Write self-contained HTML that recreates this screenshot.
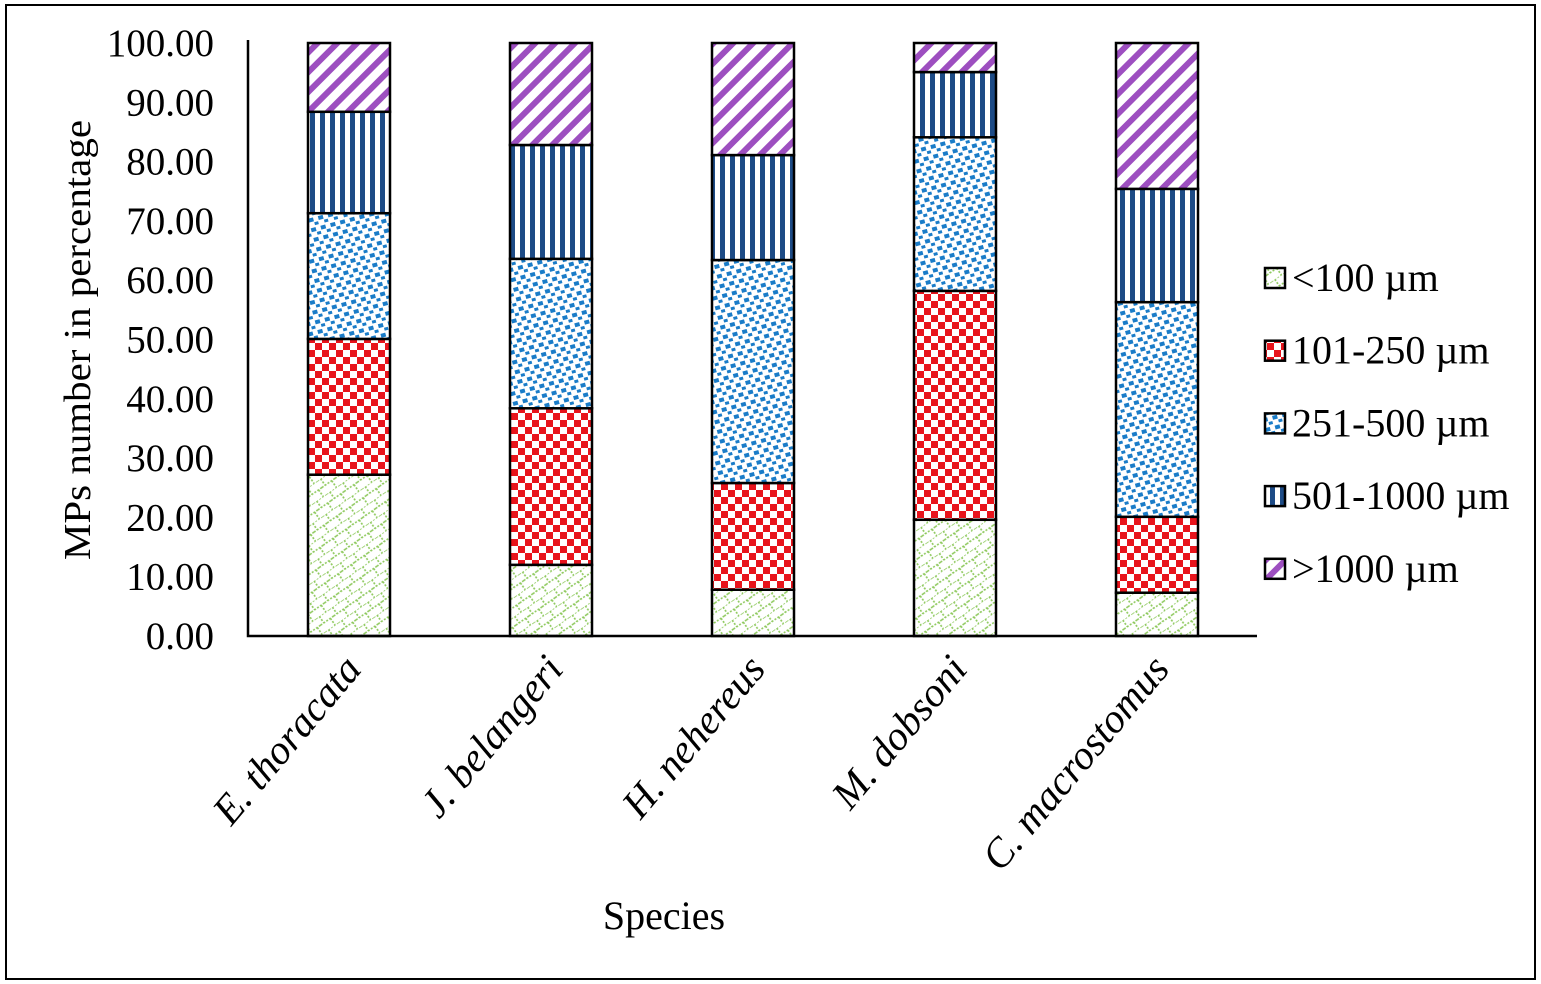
<!DOCTYPE html>
<html><head><meta charset="utf-8"><style>
html,body{margin:0;padding:0;background:#fff;}
svg{display:block;font-family:"Liberation Serif",serif;}
</style></head><body>
<svg width="1541" height="984" viewBox="0 0 1541 984">
<defs>
<pattern id="p0" width="16" height="16" patternUnits="userSpaceOnUse" patternTransform="rotate(-35)">
<path d="M0 0H16M0 8H16M4 0V8M12 8V16" stroke="#8cc85a" stroke-width="1.6" stroke-dasharray="2 1.5" fill="none"/></pattern>
<pattern id="p1" width="14" height="14" patternUnits="userSpaceOnUse">
<rect width="14" height="14" fill="#fff"/><rect width="7" height="7" fill="#e8141c"/><rect x="7" y="7" width="7" height="7" fill="#e8141c"/></pattern>
<pattern id="p2" width="10" height="10" patternUnits="userSpaceOnUse" patternTransform="rotate(-15)">
<rect width="10" height="10" fill="#fff"/><rect x="1" y="1" width="5" height="4" fill="#1a7cc8"/><rect x="6" y="6" width="4" height="3" fill="#1a7cc8"/></pattern>
<pattern id="p3" width="10" height="10" patternUnits="userSpaceOnUse">
<rect width="10" height="10" fill="#fff"/><rect x="0" width="5" height="10" fill="#1d4b86"/></pattern>
<pattern id="p4" width="14" height="14" patternUnits="userSpaceOnUse" patternTransform="rotate(-45)">
<rect width="14" height="14" fill="#fff"/><rect width="14" height="6" fill="#9d4fc0"/></pattern>
</defs>
<rect x="6" y="5" width="1529" height="974" fill="none" stroke="#000" stroke-width="2"/>
<g id="plot"></g>
<text x="90" y="340" font-size="38" text-anchor="middle" textLength="440" lengthAdjust="spacingAndGlyphs" transform="rotate(-90 90 340)">MPs number in percentage</text>
<text x="664" y="929" font-size="40" text-anchor="middle">Species</text>
</svg>
<script>
const categories=["E. thoracata","J. belangeri","H. nehereus","M. dobsoni","C. macrostomus"];
const seriesNames=["<100 µm","101-250 µm","251-500 µm","501-1000 µm",">1000 µm"];
const s0=[27.2,12.0,7.8,19.6,7.3];
const s1=[22.9,26.4,18.0,38.6,12.8];
const s2=[21.2,25.2,37.6,25.9,36.2];
const s3=[17.1,19.2,17.7,11.0,19.1];
const s4=[11.6,17.2,18.9,4.9,24.6];
const yTicks=[0,10,20,30,40,50,60,70,80,90,100];
const series=[s0,s1,s2,s3,s4];
const NS="http://www.w3.org/2000/svg";
const g=document.getElementById('plot');
const y=v=>636-v*5.93;
const xc=i=>349+i*202;
function mk(t,a){const e=document.createElementNS(NS,t);for(const k in a)e.setAttribute(k,a[k]);g.appendChild(e);return e;}
yTicks.forEach(v=>{const t=mk('text',{x:214,y:y(v)+13,'font-size':39,'text-anchor':'end'});t.textContent=v.toFixed(2);

});
categories.forEach((c,i)=>{let acc=0;series.forEach((s,j)=>{const top=acc+s[i];
const r=mk('rect',{x:xc(i)-41,y:y(top),width:82,height:y(acc)-y(top),fill:`url(#p${j})`,stroke:'#000','stroke-width':2.5});


acc=top;});
const t=mk('text',{x:xc(i)+14,y:670,'font-size':41,'font-style':'italic','text-anchor':'end',transform:`rotate(-50 ${xc(i)+14} 670)`});t.textContent=c;

});
const ax=mk('path',{d:'M248 40V636H1257',stroke:'#000','stroke-width':2.5,fill:'none'});


seriesNames.forEach((n,j)=>{const yy=278+j*72.7;
const r=mk('rect',{x:1265,y:yy-10,width:20,height:20,fill:`url(#p${j})`,stroke:'#000','stroke-width':2.5});


const t=mk('text',{x:1292,y:yy+13,'font-size':40});t.textContent=n;

});
</script>
</body></html>
